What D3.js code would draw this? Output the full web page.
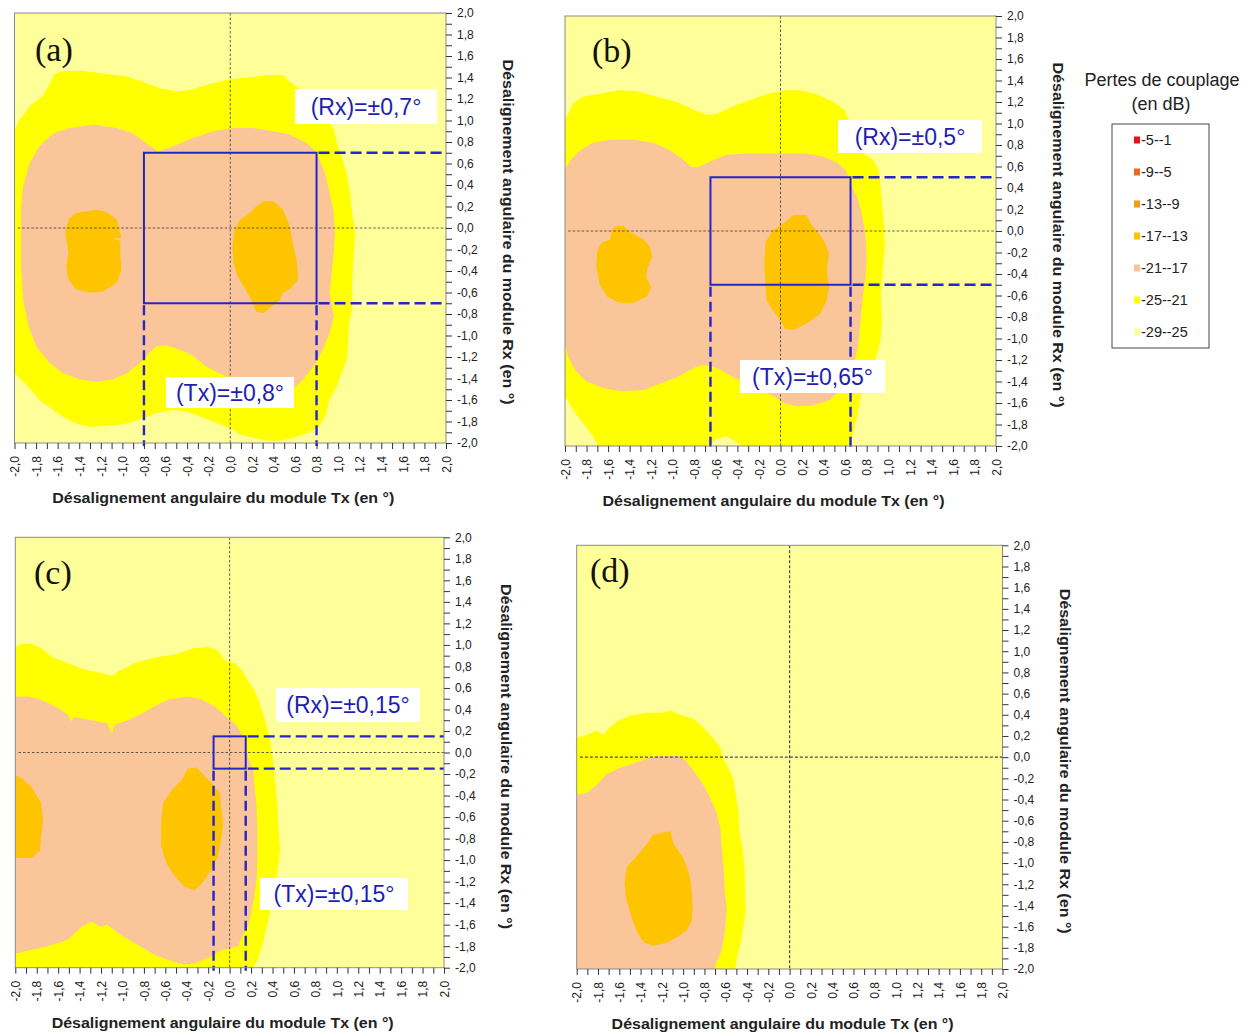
<!DOCTYPE html>
<html>
<head>
<meta charset="utf-8">
<script src="https://cdn.jsdelivr.net/npm/d3@7"></script>
<style>
  body { margin: 0; background: #fff; }
  svg { display: block; font-family: "Liberation Sans", Arial, sans-serif; }
</style>
</head>
<body>
<svg id="chart" width="1254" height="1034"></svg>
<script>
// ---- axis ticks (degrees) ----
const tickLabels = [-2.0, -1.8, -1.6, -1.4, -1.2, -1.0, -0.8, -0.6, -0.4, -0.2, 0.0,
                    0.2, 0.4, 0.6, 0.8, 1.0, 1.2, 1.4, 1.6, 1.8, 2.0];
const minorTicks = d3.range(-20, 21).map(i => i / 10);

// ---- coupling loss classes (dB) ----
const lossClasses = ["-5--1", "-9--5", "-13--9", "-17--13", "-21--17", "-25--21", "-29--25"];

// ---- panels ----
const panelLetters = ["(a)", "(b)", "(c)", "(d)"];
const txTolerance = [0.8, 0.65, 0.15, null];
const rxTolerance = [0.7, 0.5, 0.15, null];
const txLabels = ["(Tx)=±0,8°", "(Tx)=±0,65°", "(Tx)=±0,15°", null];
const rxLabels = ["(Rx)=±0,7°", "(Rx)=±0,5°", "(Rx)=±0,15°", null];

// ---- iso-loss zones, [Tx misalignment, Rx misalignment] in degrees ----
// panel (a)
const aZone25 = [[-2.00,0.92],[-1.95,1.01],[-1.86,1.13],[-1.73,1.24],[-1.67,1.35],[-1.63,1.43],[-1.55,1.46],[-1.36,1.46],[-1.21,1.44],[-0.96,1.41],[-0.81,1.36],[-0.65,1.30],[-0.50,1.27],[-0.34,1.29],[-0.22,1.33],[-0.03,1.38],[0.15,1.40],[0.34,1.42],[0.49,1.42],[0.55,1.36],[0.65,1.29],[0.77,1.16],[0.86,1.04],[0.96,0.92],[0.99,0.79],[1.03,0.67],[1.08,0.51],[1.11,0.33],[1.13,0.14],[1.16,-0.05],[1.14,-0.29],[1.13,-0.51],[1.13,-0.73],[1.10,-0.91],[1.09,-1.10],[1.08,-1.23],[1.03,-1.35],[0.99,-1.47],[0.92,-1.60],[0.88,-1.75],[0.82,-1.85],[0.71,-1.91],[0.58,-1.95],[0.46,-1.98],[0.34,-1.98],[0.21,-1.95],[0.09,-1.92],[0.03,-1.88],[-0.03,-1.85],[-0.16,-1.80],[-0.28,-1.75],[-0.40,-1.71],[-0.53,-1.69],[-0.68,-1.72],[-0.81,-1.77],[-0.90,-1.80],[-1.02,-1.83],[-1.15,-1.84],[-1.30,-1.85],[-1.39,-1.83],[-1.49,-1.79],[-1.58,-1.74],[-1.67,-1.67],[-1.77,-1.60],[-1.86,-1.49],[-1.95,-1.40],[-2.00,-1.35]];
const aZone21 = [[-1.94,0.20],[-1.92,0.39],[-1.86,0.60],[-1.77,0.76],[-1.64,0.88],[-1.49,0.93],[-1.27,0.96],[-1.05,0.93],[-0.90,0.88],[-0.78,0.79],[-0.67,0.71],[-0.53,0.76],[-0.34,0.84],[-0.16,0.90],[0.03,0.93],[0.21,0.93],[0.40,0.90],[0.55,0.87],[0.71,0.79],[0.80,0.70],[0.88,0.51],[0.92,0.33],[0.96,0.14],[0.97,-0.05],[0.96,-0.23],[0.94,-0.42],[0.92,-0.60],[0.96,-0.82],[0.92,-0.98],[0.86,-1.13],[0.77,-1.29],[0.65,-1.44],[0.55,-1.52],[0.40,-1.55],[0.28,-1.54],[0.15,-1.47],[0.03,-1.41],[-0.10,-1.35],[-0.22,-1.29],[-0.34,-1.19],[-0.47,-1.13],[-0.59,-1.09],[-0.68,-1.10],[-0.75,-1.16],[-0.84,-1.26],[-0.96,-1.35],[-1.09,-1.41],[-1.24,-1.43],[-1.39,-1.41],[-1.55,-1.35],[-1.67,-1.26],[-1.80,-1.10],[-1.87,-0.91],[-1.92,-0.67],[-1.94,-0.36],[-1.94,-0.05]];
const aZone17L = [[-1.43,0.14],[-1.24,0.17],[-1.15,0.15],[-1.05,0.08],[-1.02,-0.05],[-1.01,-0.09],[-1.09,-0.10],[-1.02,-0.12],[-1.02,-0.23],[-1.01,-0.39],[-1.05,-0.51],[-1.18,-0.59],[-1.30,-0.60],[-1.43,-0.57],[-1.50,-0.48],[-1.52,-0.36],[-1.50,-0.23],[-1.52,-0.11],[-1.53,-0.02],[-1.49,0.09]];
const aZone17R = [[0.31,0.25],[0.40,0.25],[0.49,0.17],[0.55,0.02],[0.58,-0.14],[0.62,-0.33],[0.63,-0.48],[0.55,-0.57],[0.49,-0.60],[0.46,-0.67],[0.37,-0.74],[0.31,-0.79],[0.24,-0.78],[0.21,-0.70],[0.14,-0.57],[0.07,-0.45],[0.03,-0.33],[0.02,-0.17],[0.04,-0.02],[0.09,0.08],[0.18,0.14],[0.24,0.20]];
// panel (b)
const bZone25 = [[-2.00,1.03],[-1.92,1.19],[-1.83,1.25],[-1.67,1.28],[-1.49,1.31],[-1.33,1.30],[-1.15,1.25],[-0.96,1.20],[-0.81,1.13],[-0.68,1.08],[-0.59,1.09],[-0.44,1.16],[-0.25,1.23],[-0.10,1.28],[0.06,1.31],[0.18,1.31],[0.34,1.27],[0.49,1.20],[0.59,1.13],[0.65,1.00],[0.72,0.85],[0.77,0.72],[0.86,0.66],[0.91,0.57],[0.93,0.41],[0.94,0.26],[0.96,0.07],[0.97,-0.11],[0.95,-0.36],[0.93,-0.58],[0.94,-0.80],[0.93,-1.01],[0.89,-1.17],[0.83,-1.32],[0.77,-1.45],[0.74,-1.57],[0.72,-1.70],[0.68,-1.85],[0.65,-2.00],[-0.36,-2.00],[-0.41,-1.96],[-0.50,-1.91],[-0.59,-1.93],[-0.67,-2.00],[-1.69,-2.00],[-1.74,-1.91],[-1.83,-1.79],[-1.92,-1.67],[-2.00,-1.54]];
const bZone21 = [[-2.00,0.57],[-1.95,0.66],[-1.86,0.75],[-1.74,0.82],[-1.58,0.85],[-1.37,0.85],[-1.18,0.82],[-1.02,0.75],[-0.90,0.66],[-0.82,0.59],[-0.75,0.60],[-0.62,0.66],[-0.50,0.71],[-0.31,0.72],[-0.13,0.72],[0.06,0.72],[0.24,0.72],[0.40,0.69],[0.52,0.64],[0.60,0.57],[0.65,0.44],[0.72,0.29],[0.76,0.13],[0.79,-0.05],[0.80,-0.24],[0.79,-0.43],[0.76,-0.64],[0.74,-0.86],[0.72,-1.08],[0.68,-1.23],[0.62,-1.36],[0.55,-1.48],[0.46,-1.57],[0.31,-1.62],[0.15,-1.63],[0.03,-1.60],[-0.06,-1.54],[-0.19,-1.48],[-0.31,-1.42],[-0.44,-1.36],[-0.56,-1.29],[-0.65,-1.25],[-0.75,-1.25],[-0.84,-1.29],[-0.96,-1.36],[-1.12,-1.42],[-1.27,-1.48],[-1.49,-1.49],[-1.64,-1.46],[-1.80,-1.40],[-1.91,-1.29],[-1.97,-1.17],[-2.00,-1.05]];
const bZone17L = [[-1.54,0.04],[-1.46,0.05],[-1.40,-0.01],[-1.27,-0.08],[-1.21,-0.15],[-1.19,-0.24],[-1.23,-0.33],[-1.25,-0.43],[-1.20,-0.52],[-1.24,-0.61],[-1.37,-0.67],[-1.49,-0.67],[-1.61,-0.61],[-1.68,-0.49],[-1.71,-0.33],[-1.70,-0.18],[-1.66,-0.11],[-1.58,-0.08],[-1.57,-0.01]];
const bZone17R = [[0.12,0.15],[0.24,0.15],[0.28,0.07],[0.40,-0.08],[0.45,-0.21],[0.43,-0.36],[0.45,-0.52],[0.43,-0.64],[0.37,-0.77],[0.24,-0.86],[0.12,-0.92],[0.04,-0.91],[0.00,-0.83],[-0.07,-0.74],[-0.13,-0.64],[-0.14,-0.49],[-0.15,-0.30],[-0.14,-0.11],[-0.07,0.01],[0.03,0.07]];
// panel (c)
const cZone25 = [[-2.00,0.98],[-1.94,1.01],[-1.85,1.01],[-1.76,0.97],[-1.66,0.89],[-1.51,0.83],[-1.35,0.77],[-1.20,0.74],[-1.10,0.71],[-1.04,0.75],[-0.89,0.83],[-0.70,0.88],[-0.51,0.91],[-0.33,0.97],[-0.20,0.98],[-0.11,0.95],[-0.05,0.86],[0.05,0.83],[0.11,0.77],[0.17,0.67],[0.23,0.58],[0.28,0.46],[0.33,0.30],[0.37,0.15],[0.40,-0.04],[0.42,-0.22],[0.44,-0.41],[0.45,-0.60],[0.47,-0.91],[0.44,-1.15],[0.40,-1.37],[0.36,-1.56],[0.31,-1.77],[0.26,-1.93],[0.22,-2.00],[-2.00,-2.00]];
const cZone21 = [[-2.00,0.52],[-1.88,0.52],[-1.76,0.49],[-1.63,0.43],[-1.51,0.35],[-1.48,0.29],[-1.45,0.33],[-1.29,0.30],[-1.14,0.27],[-1.10,0.18],[-1.07,0.26],[-0.95,0.30],[-0.82,0.36],[-0.70,0.43],[-0.58,0.49],[-0.39,0.52],[-0.26,0.49],[-0.14,0.43],[-0.02,0.32],[0.05,0.27],[0.11,0.18],[0.15,0.09],[0.17,-0.04],[0.22,-0.16],[0.23,-0.29],[0.25,-0.47],[0.26,-0.72],[0.26,-0.97],[0.25,-1.18],[0.22,-1.40],[0.17,-1.62],[0.12,-1.70],[0.08,-1.80],[-0.08,-1.84],[-0.20,-1.91],[-0.33,-1.96],[-0.42,-1.97],[-0.54,-1.94],[-0.70,-1.88],[-0.89,-1.77],[-1.04,-1.68],[-1.14,-1.60],[-1.20,-1.62],[-1.29,-1.57],[-1.38,-1.62],[-1.51,-1.74],[-1.70,-1.80],[-1.88,-1.84],[-2.00,-1.87]];
const cZone17L = [[-2.00,-0.21],[-1.94,-0.24],[-1.85,-0.32],[-1.76,-0.47],[-1.74,-0.63],[-1.76,-0.78],[-1.77,-0.91],[-1.85,-0.98],[-2.00,-0.98]];
const cZone17R = [[-0.39,-0.15],[-0.31,-0.14],[-0.23,-0.22],[-0.16,-0.29],[-0.09,-0.38],[-0.08,-0.50],[-0.06,-0.66],[-0.08,-0.81],[-0.11,-0.97],[-0.17,-1.09],[-0.26,-1.22],[-0.33,-1.28],[-0.42,-1.25],[-0.51,-1.15],[-0.59,-1.03],[-0.64,-0.87],[-0.64,-0.66],[-0.62,-0.47],[-0.54,-0.35],[-0.45,-0.26]];
// panel (d)
const dZone25 = [[-2.00,0.18],[-1.91,0.21],[-1.81,0.25],[-1.75,0.21],[-1.69,0.28],[-1.62,0.34],[-1.50,0.39],[-1.34,0.42],[-1.19,0.42],[-1.12,0.44],[-1.03,0.40],[-0.90,0.36],[-0.81,0.28],[-0.72,0.18],[-0.65,0.09],[-0.61,-0.04],[-0.56,-0.13],[-0.53,-0.20],[-0.51,-0.32],[-0.48,-0.51],[-0.47,-0.70],[-0.44,-0.89],[-0.42,-1.08],[-0.42,-1.26],[-0.41,-1.45],[-0.44,-1.64],[-0.47,-1.80],[-0.50,-1.92],[-0.51,-2.00],[-2.00,-2.00]];
const dZone21 = [[-2.00,-0.35],[-1.91,-0.34],[-1.81,-0.26],[-1.72,-0.16],[-1.59,-0.10],[-1.44,-0.05],[-1.31,0.00],[-1.19,0.01],[-1.03,0.01],[-0.97,-0.04],[-0.90,-0.13],[-0.81,-0.26],[-0.75,-0.38],[-0.69,-0.51],[-0.65,-0.67],[-0.64,-0.82],[-0.62,-1.04],[-0.61,-1.26],[-0.59,-1.45],[-0.61,-1.67],[-0.64,-1.83],[-0.69,-1.94],[-0.70,-2.00],[-2.00,-2.00]];
const dZone17 = [[-1.28,-0.73],[-1.12,-0.70],[-1.09,-0.82],[-1.00,-0.95],[-0.94,-1.11],[-0.92,-1.26],[-0.91,-1.42],[-0.92,-1.55],[-0.97,-1.64],[-1.06,-1.70],[-1.15,-1.75],[-1.28,-1.78],[-1.37,-1.75],[-1.44,-1.64],[-1.48,-1.52],[-1.53,-1.36],[-1.55,-1.20],[-1.53,-1.04],[-1.45,-0.95],[-1.34,-0.82]];

// zone lists per panel: index into lossClasses, polygon
const panelZones = [
  [[5, aZone25], [4, aZone21], [3, aZone17L], [3, aZone17R]],
  [[5, bZone25], [4, bZone21], [3, bZone17L], [3, bZone17R]],
  [[5, cZone25], [4, cZone21], [3, cZone17L], [3, cZone17R]],
  [[5, dZone25], [4, dZone21], [3, dZone17]]
];

// ---- styling & layout ----
const lossColors = ["#E3141B", "#EC6A1E", "#F39A18", "#FFC400", "#FAC598", "#FFFF00", "#FFFF99"];
const blueLine = "#2525C8";
const blueText = "#1E1EB0";
const serif = "'Liberation Serif', 'Times New Roman', serif";

const layout = [
  { x0: 14.5, x1: 446,   y0: 13,    y1: 443,   letter: [35, 61],  cross: [0.9, "2.5,2"], rxBox: [295, 89, 142, 35],  txBox: [166, 377, 128, 31] },
  { x0: 565,  x1: 996,   y0: 16,    y1: 446,   letter: [592, 62], cross: [0.9, "2.5,2"], rxBox: [838, 120, 144, 33], txBox: [740, 360, 145, 33] },
  { x0: 15.3, x1: 444,   y0: 537.3, y1: 967.7, letter: [34, 584], cross: [0.9, "2.5,2"], rxBox: [276, 688, 144, 34], txBox: [260, 878, 148, 32] },
  { x0: 576.7, x1: 1002.5, y0: 545.3, y1: 969, letter: [590, 582], cross: [1.2, "3,2"] }
];

const fmt = v => (v < -1e-9 ? "-" : "") + Math.abs(v).toFixed(1).replace(".", ",");

const svg = d3.select("#chart");
const defs = svg.append("defs");

panelLetters.forEach((letter, i) => {
  const L = layout[i];
  const x = d3.scaleLinear().domain([-2, 2]).range([L.x0, L.x1]);
  const y = d3.scaleLinear().domain([-2, 2]).range([L.y1, L.y0]);
  const line = d3.line().x(d => x(d[0])).y(d => y(d[1])).curve(d3.curveLinearClosed);

  const g = svg.append("g").attr("class", "panel");

  defs.append("clipPath").attr("id", "clip" + i)
    .append("rect")
    .attr("x", x(-2)).attr("y", y(2))
    .attr("width", x(2) - x(-2)).attr("height", y(-2) - y(2));

  const plot = g.append("g").attr("clip-path", `url(#clip${i})`);

  // background class (-29--25 dB)
  plot.append("rect")
    .attr("x", x(-2)).attr("y", y(2))
    .attr("width", x(2) - x(-2)).attr("height", y(-2) - y(2))
    .attr("fill", lossColors[6]);

  plot.selectAll("path.zone")
    .data(panelZones[i])
    .join("path")
    .attr("class", "zone")
    .attr("d", d => line(d[1]))
    .attr("fill", d => lossColors[d[0]]);

  // zero crosshair
  plot.append("line")
    .attr("x1", x(-1.97)).attr("x2", x(2)).attr("y1", y(0)).attr("y2", y(0))
    .attr("stroke", "#4a4a4a").attr("stroke-width", L.cross[0]).attr("stroke-dasharray", L.cross[1]);
  plot.append("line")
    .attr("x1", x(0)).attr("x2", x(0)).attr("y1", y(2)).attr("y2", y(-2))
    .attr("stroke", "#4a4a4a").attr("stroke-width", L.cross[0]).attr("stroke-dasharray", L.cross[1]);

  // tolerance window
  const t = txTolerance[i], r = rxTolerance[i];
  if (t !== null) {
    const tol = g.append("g");
    tol.append("rect")
      .attr("x", x(-t)).attr("y", y(r))
      .attr("width", x(t) - x(-t)).attr("height", y(-r) - y(r))
      .attr("fill", "none").attr("stroke", blueLine).attr("stroke-width", 2);
    [r, -r].forEach(v => {
      tol.append("line")
        .attr("x1", x(t) + 2).attr("x2", x(2)).attr("y1", y(v)).attr("y2", y(v))
        .attr("stroke", blueLine).attr("stroke-width", 2.4).attr("stroke-dasharray", "11,5");
    });
    [-t, t].forEach(v => {
      tol.append("line")
        .attr("x1", x(v)).attr("x2", x(v)).attr("y1", y(-r) + 2).attr("y2", y(-2) + 3)
        .attr("stroke", blueLine).attr("stroke-width", 2.4).attr("stroke-dasharray", "10,5");
    });

    [[L.rxBox, rxLabels[i]], [L.txBox, txLabels[i]]].forEach(([b, label]) => {
      tol.append("rect")
        .attr("x", b[0]).attr("y", b[1]).attr("width", b[2]).attr("height", b[3])
        .attr("fill", "#ffffff");
      tol.append("text")
        .attr("x", b[0] + b[2] / 2).attr("y", b[1] + b[3] / 2 + 8)
        .attr("text-anchor", "middle")
        .attr("font-size", 23).attr("fill", blueText)
        .text(label);
    });
  }

  // frame
  g.append("rect")
    .attr("x", x(-2)).attr("y", y(2))
    .attr("width", x(2) - x(-2)).attr("height", y(-2) - y(2))
    .attr("fill", "none").attr("stroke", "#8a8a8a").attr("stroke-width", 1);

  // right axis (Rx)
  const yMinor = g.append("g").attr("transform", `translate(${x(2)},0)`)
    .call(d3.axisRight(y).tickValues(minorTicks).tickSize(6).tickFormat(""));
  const yMajor = g.append("g").attr("transform", `translate(${x(2)},0)`)
    .call(d3.axisRight(y).tickValues(tickLabels).tickSize(0).tickPadding(11).tickFormat(fmt));
  // bottom axis (Tx)
  const xMinor = g.append("g").attr("transform", `translate(0,${y(-2)})`)
    .call(d3.axisBottom(x).tickValues(minorTicks).tickSize(6).tickFormat(""));
  const xMajor = g.append("g").attr("transform", `translate(0,${y(-2)})`)
    .call(d3.axisBottom(x).tickValues(tickLabels).tickSize(0).tickFormat(fmt));

  [yMinor, yMajor, xMinor, xMajor].forEach(a => {
    a.attr("font-family", null);
    a.select(".domain").remove();
    a.selectAll(".tick line").attr("stroke", "#333");
    a.selectAll("text").attr("font-size", 12).attr("fill", "#222");
  });
  xMajor.selectAll("text")
    .attr("transform", "rotate(-90)")
    .attr("text-anchor", "end")
    .attr("x", -13).attr("y", 0).attr("dy", "0.35em");

  // axis titles
  g.append("text")
    .attr("x", (x(-2) + x(2)) / 2 - 7).attr("y", y(-2) + 60)
    .attr("text-anchor", "middle")
    .attr("font-size", 14).attr("font-weight", "bold").attr("fill", "#222")
    .attr("textLength", 342).attr("lengthAdjust", "spacingAndGlyphs")
    .text("Désalignement angulaire du module Tx (en °)");
  g.append("text")
    .attr("transform", `translate(${x(2) + 62},${(y(2) + y(-2)) / 2 + 4}) rotate(90)`)
    .attr("text-anchor", "middle").attr("dy", "0.35em")
    .attr("font-size", 14).attr("font-weight", "bold").attr("fill", "#222")
    .attr("textLength", 345).attr("lengthAdjust", "spacingAndGlyphs")
    .text("Désalignement angulaire du module Rx (en °)");

  // panel letter
  g.append("text")
    .attr("x", L.letter[0]).attr("y", L.letter[1])
    .style("font-family", serif)
    .attr("font-size", 34).attr("fill", "#111")
    .text(letter);
});

// ---- legend ----
const legend = svg.append("g").attr("class", "legend");
legend.append("text").attr("x", 1162).attr("y", 86).attr("text-anchor", "middle")
  .attr("font-size", 18).attr("fill", "#222").text("Pertes de couplage");
legend.append("text").attr("x", 1161).attr("y", 110).attr("text-anchor", "middle")
  .attr("font-size", 18).attr("fill", "#222").text("(en dB)");
legend.append("rect").attr("x", 1112).attr("y", 124).attr("width", 97).attr("height", 224)
  .attr("fill", "#fff").attr("stroke", "#444").attr("stroke-width", 1);
const legendY = d3.scalePoint().domain(lossClasses).range([140, 332]);
const items = legend.selectAll("g.item").data(lossClasses).join("g")
  .attr("class", "item")
  .attr("transform", d => `translate(0,${legendY(d)})`);
items.append("rect").attr("x", 1134).attr("y", -3.5).attr("width", 6).attr("height", 7)
  .attr("fill", (d, i) => lossColors[i]);
items.append("text").attr("x", 1141).attr("y", 0).attr("dy", "0.35em")
  .attr("font-size", 14.5).attr("fill", "#222").text(d => d);
</script>
</body>
</html>
